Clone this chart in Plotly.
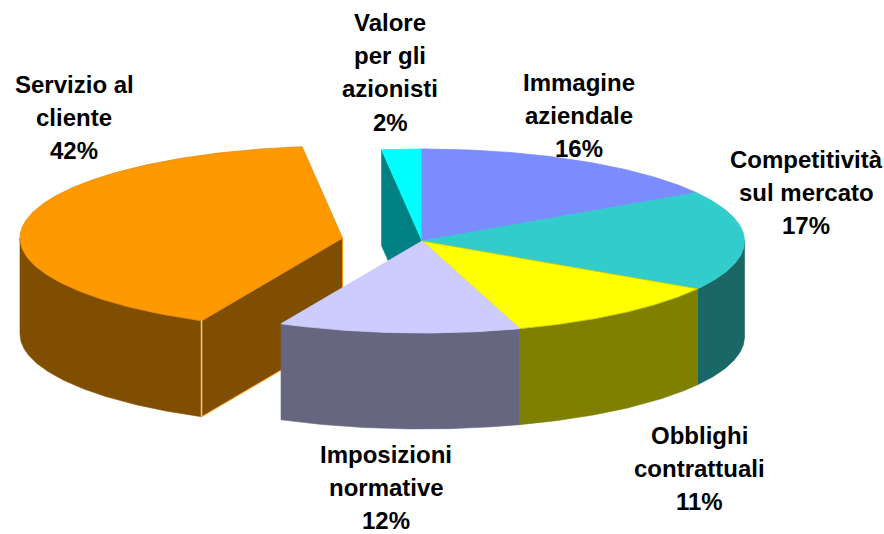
import math
import plotly.graph_objects as go

# Data: category names, printed percentages, sweep shares as measured on the drawing
categories = ["Immagine aziendale", "Competitività sul mercato", "Obblighi contrattuali",
              "Imposizioni normative", "Servizio al cliente", "Valore per gli azionisti"]
percent_labels = [16, 17, 11, 12, 42, 2]
slice_shares = [16.2, 17.5, 11.4, 12.1, 40.8, 2.0]
label_lines = [["Immagine", "aziendale"], ["Competitività", "sul mercato"], ["Obblighi", "contrattuali"],
               ["Imposizioni", "normative"], ["Servizio al", "cliente"], ["Valore", "per gli", "azionisti"]]

# Styles
TOP = ["#7B8CFF", "#33CCCC", "#FFFF00", "#CCCCFF", "#FF9900", "#00FFFF"]
WALL = [None, "#1A6767", "#808000", "#666680", "#804E00", "#008080"]
EDGE = ["#7B8CFF", "#33CCCC", "#C8C800", "#CCCCFF", "#E08A10", "#00FFFF"]

# Geometry of the projected pie (pixels)
CX, CY, RX, RY, DEPTH = 422.0, 241.0, 322.5, 92.0, 96.0
EXPLODE = {4: (-79.5, -3.0)}
LABEL_X = [579, 806, 699, 386, 74, 390]
LABEL_Y0 = [82, 159, 435, 454, 84, 22]
LINE_STEP = 33.4
FONT_SIZE = 24

edges = [0.0]
for s in slice_shares:
    edges.append(edges[-1] + s)
total = edges[-1]
angle = [e / total * 2 * math.pi for e in edges]


def arc(i, a0, a1, dz=0.0):
    ox, oy = EXPLODE.get(i, (0.0, 0.0))
    n = max(2, int(abs(a1 - a0) / 0.01))
    xs, ys = [], []
    for k in range(n + 1):
        t = a0 + (a1 - a0) * k / n
        xs.append(CX + ox + RX * math.sin(t))
        ys.append(CY + oy - RY * math.cos(t) + dz)
    return xs, ys


def apex(i, dz=0.0):
    ox, oy = EXPLODE.get(i, (0.0, 0.0))
    return CX + ox, CY + oy + dz


fig = go.Figure()


def poly(xs, ys, fill, line=None, width=1.0):
    fig.add_trace(go.Scatter(x=xs + xs[:1], y=ys + ys[:1], mode="lines", fill="toself",
                             fillcolor=fill, line=dict(color=line or fill, width=width),
                             hoverinfo="skip", showlegend=False))


def top(i):
    xs, ys = arc(i, angle[i], angle[i + 1])
    ax, ay = apex(i)
    poly([ax] + xs, [ay] + ys, TOP[i], EDGE[i], 0.8)


def outer_wall(i, a0, a1):
    x1, y1 = arc(i, a0, a1)
    x2, y2 = arc(i, a0, a1, DEPTH)
    poly(x1 + x2[::-1], y1 + y2[::-1], WALL[i], WALL[i], 0.6)


def radial_wall(i, a, line=None, width=0.6):
    ox, oy = EXPLODE.get(i, (0.0, 0.0))
    ex = CX + ox + RX * math.sin(a)
    ey = CY + oy - RY * math.cos(a)
    ax, ay = apex(i)
    poly([ax, ex, ex, ax], [ay, ey, ey + DEPTH, ay + DEPTH], WALL[i], line or WALL[i], width)


# Back to front
S, V, O, C, I = 4, 5, 2, 1, 3
outer_wall(S, angle[S], 1.5 * math.pi)
radial_wall(S, angle[S], "#FF9900", 1.0)
top(S)
# light seam at the corner of the pulled-out slice
sx, sy = arc(S, angle[S], angle[S])
fig.add_trace(go.Scatter(x=[sx[0], sx[0]], y=[sy[0], sy[0] + DEPTH], mode="lines",
                         line=dict(color="#FFC880", width=1.5), hoverinfo="skip", showlegend=False))
radial_wall(V, angle[V])
top(V)
top(0)
outer_wall(C, 0.5 * math.pi, angle[C + 1])
top(C)
outer_wall(O, angle[O], angle[O + 1])
top(O)
outer_wall(I, angle[I], angle[I + 1])
top(I)

annotations = []
for i, lines in enumerate(label_lines):
    for j, t in enumerate(lines + [f"{percent_labels[i]}%"]):
        annotations.append(dict(x=LABEL_X[i], y=LABEL_Y0[i] + j * LINE_STEP, xref="x", yref="y",
                                text=t, showarrow=False, xanchor="center", yanchor="middle",
                                font=dict(family="Liberation Sans", size=FONT_SIZE, color="#000000", weight=700)))

fig.update_layout(width=884, height=534, margin=dict(l=0, r=0, t=0, b=0),
                  paper_bgcolor="#FFFFFF", plot_bgcolor="#FFFFFF", showlegend=False,
                  annotations=annotations,
                  xaxis=dict(range=[0, 884], visible=False, fixedrange=True),
                  yaxis=dict(range=[534, 0], visible=False, fixedrange=True))
fig.write_html("out.html", config=dict(displayModeBar=False),
               post_script="document.body.style.margin='0';document.body.style.overflow='hidden';")
